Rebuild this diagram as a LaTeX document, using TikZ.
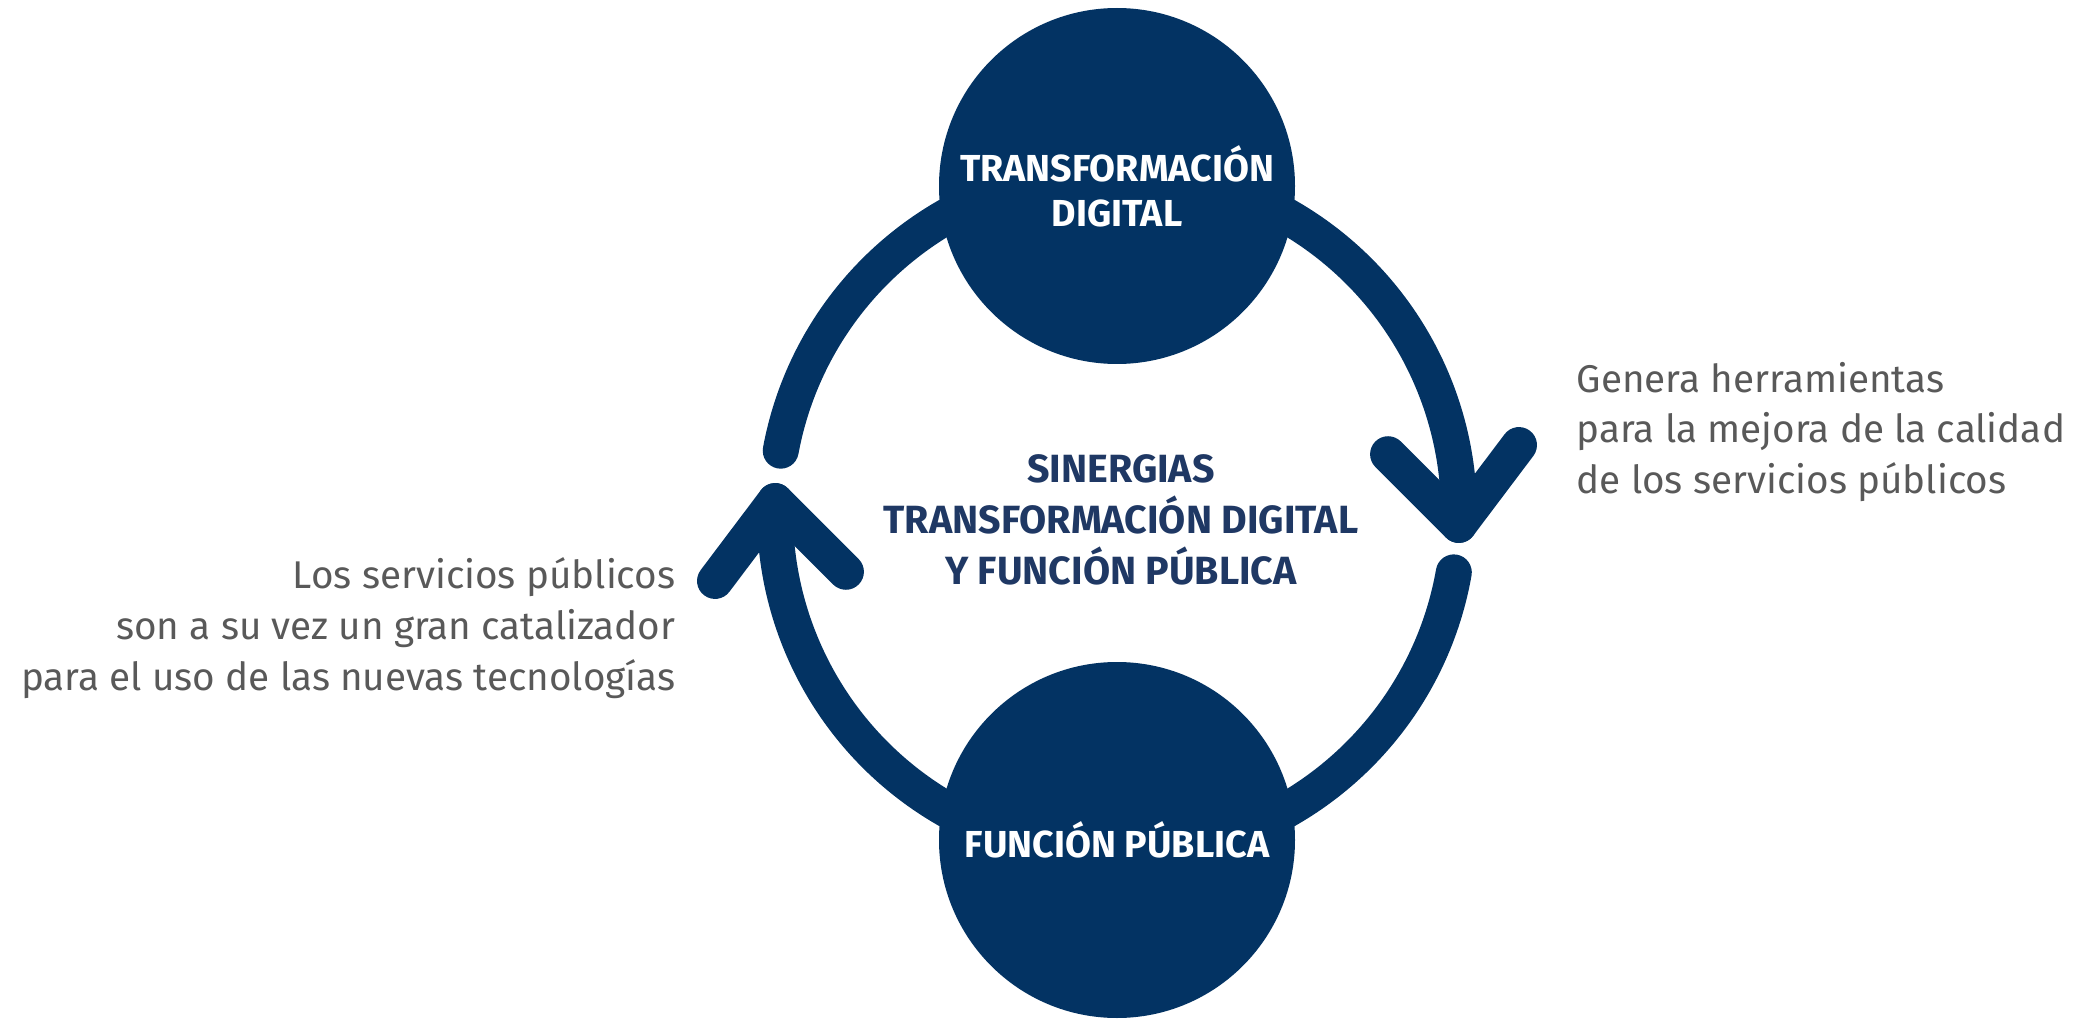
\documentclass[tikz,border=0pt]{standalone}
\usepackage{fontspec}
\setmainfont{Fira Sans}
\usetikzlibrary{calc, backgrounds}
\definecolor{navy}{RGB}{3,51,99}
\definecolor{titleblue}{RGB}{31,56,100}
\definecolor{textgray}{RGB}{89,89,89}

\begin{document}
\begin{tikzpicture}[
		circ/.style={circle, fill=navy, minimum size=3.56cm, inner sep=0pt,
			text=white, align=center, font=\fontsize{10.7}{12.8}\selectfont\bfseries},
		ring/.style={draw=navy, line width=0.36cm, line cap=round, line join=round},
		note/.style={text=textgray, inner sep=0pt, font=\fontsize{11}{14.5}\selectfont}
	]
	\useasboundingbox (0,0) rectangle (20.77,10.18);
	\coordinate (mid) at (11.17,5.05);
	\node [circ] (digital) at (11.17,8.32) {TRANSFORMACIÓN\\DIGITAL};
	\node [circ] (funcion) at (11.17,1.78) {FUNCIÓN PÚBLICA};
	\node [align=center, text=titleblue, font=\fontsize{11.2}{14.5}\selectfont\bfseries]
		(sinergias) at (11.21,4.98)
		{SINERGIAS\\TRANSFORMACIÓN DIGITAL\\Y FUNCIÓN PÚBLICA};
	\node [note, align=left, anchor=west] (mejora) at (15.76,5.86)
		{Genera herramientas\\para la mejora de la calidad\\de los servicios públicos};
	\node [note, align=right, anchor=east] (catalizador) at (6.76,3.90)
		{Los servicios públicos\\son a su vez un gran catalizador\\para el uso de las nuevas tecnologías};
	% arrow tips on the ring
	\coordinate (tipR) at ($(mid)+(-2:3.42)$);
	\coordinate (tipL) at ($(mid)+(178:3.42)$);
	\begin{scope}[on background layer]
		\draw [ring] ($(mid)+(90:3.42)$) arc [start angle=90, end angle=169.5, radius=3.42];
		\draw [ring] ($(mid)+(270:3.42)$) arc [start angle=270, end angle=178, radius=3.42];
		\draw [ring] ($(mid)+(90:3.42)$) arc [start angle=90, end angle=-2, radius=3.42];
		\draw [ring] ($(mid)+(-10:3.42)$) arc [start angle=-10, end angle=-90, radius=3.42];
		\draw [ring] ($(tipR)+(135:1)$) -- (tipR) -- ($(tipR)+(53:1)$);
		\draw [ring] ($(tipL)+(233:1)$) -- (tipL) -- ($(tipL)+(315:1)$);
	\end{scope}
\end{tikzpicture}
\end{document}
